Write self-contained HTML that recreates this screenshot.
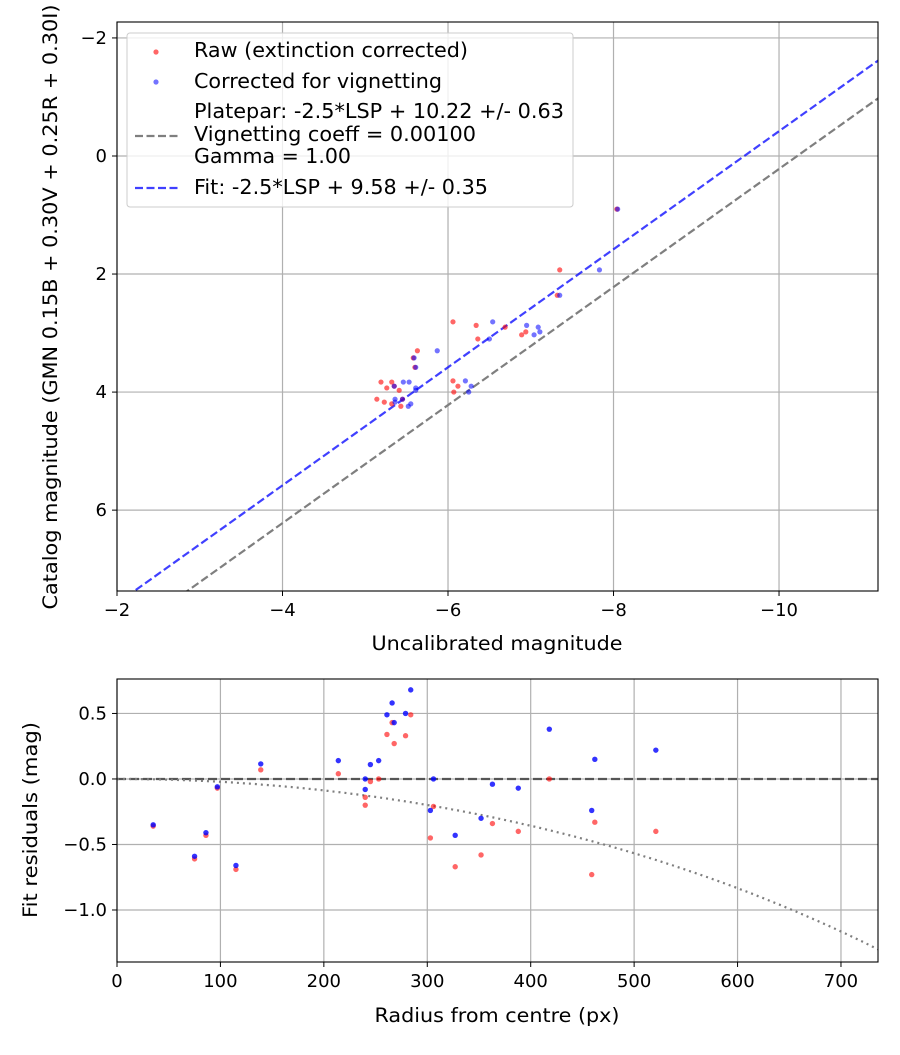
<!DOCTYPE html>
<html><head><meta charset="utf-8"><style>
body{margin:0;background:#fff;}
svg text{font-family:"DejaVu Sans","Liberation Sans",sans-serif;fill:#000;}
</style></head><body>
<svg id="fig" width="900" height="1050" viewBox="0 0 900 1050" xmlns="http://www.w3.org/2000/svg"></svg>
<script>
// ---- top chart data ----
const topCatalog = [0.9,1.93,2.36,2.81,2.87,2.90,2.98,3.03,3.10,3.30,3.42,3.58,3.81,3.90,4.0,3.83,3.83,3.93,3.97,4.12,4.17,4.24,4.20,3.90,4.12];
const topRaw =     [-8.04,-7.35,-7.32,-6.06,-6.34,-6.69,-6.94,-6.89,-6.36,-5.63,-5.58,-5.60,-6.06,-6.12,-6.07,-5.19,-5.32,-5.26,-5.41,-5.14,-5.23,-5.43,-5.32,-5.35,-5.45];
const topCorr =    [-8.05,-7.83,-7.35,-6.54,-6.95,-7.09,-7.11,-7.04,-6.50,-5.87,-5.59,-5.61,-6.21,-6.28,-6.25,-5.46,-5.53,-5.61,-5.61,-5.36,-5.36,-5.52,-5.55,-5.35,-5.45];
const platepar = 10.22;
const fitZero = 9.58;
const topXTicks = [-2,-4,-6,-8,-10];
const topYTicks = [-2,0,2,4,6];
// ---- bottom chart data ----
const resRadius = [35,75,86,115,97,139,214,240,240,245,253,261,266,268,279,284,303,306,327,352,363,388,418,459,462,521];
const resRaw =    [-0.36,-0.61,-0.43,-0.69,-0.07,0.07,0.04,-0.14,-0.20,-0.02,0.0,0.34,0.43,0.27,0.33,0.49,-0.45,-0.21,-0.67,-0.58,-0.34,-0.40,0.0,-0.73,-0.33,-0.40];
const resCorr =   [-0.35,-0.59,-0.41,-0.66,-0.06,0.115,0.14,0.0,-0.08,0.11,0.14,0.49,0.58,0.43,0.50,0.68,-0.24,0.0,-0.43,-0.30,-0.04,-0.07,0.38,-0.24,0.15,0.22];
const vignCoeff = 0.001;
const botXTicks = [0,100,200,300,400,500,600,700];
const botYTicks = [0.5,0.0,-0.5,-1.0];
const botYLabels = ["0.5","0.0","−0.5","−1.0"];

const NS="http://www.w3.org/2000/svg";
const svg=document.getElementById('fig');
function mk(tag,attrs,parent){const e=document.createElementNS(NS,tag);for(const k in attrs)e.setAttribute(k,attrs[k]);(parent||svg).appendChild(e);return e;}
const fmt=v=>(v<0?"−":"")+Math.abs(v);

// top axes
const T={l:117,t:22,w:761,h:569,x0:-2,x1:-11.196,y0:-2.27,y1:7.37};
const tx=v=>T.l+(v-T.x0)/(T.x1-T.x0)*T.w;
const ty=v=>T.t+(v-T.y0)/(T.y1-T.y0)*T.h;
const gTop=mk('g',{});


const clipT=mk('clipPath',{id:'ct'});mk('rect',{x:T.l,y:T.t,width:T.w,height:T.h},clipT);
topXTicks.forEach(v=>{
  const l=mk('line',{x1:tx(v),x2:tx(v),y1:T.t,y2:T.t+T.h,stroke:'#b0b0b0','stroke-width':1.2},gTop);
  
  mk('line',{x1:tx(v),x2:tx(v),y1:T.t+T.h,y2:T.t+T.h+5,stroke:'#000'},gTop);
  const t=mk('text',{x:tx(v),y:T.t+T.h+25,'text-anchor':'middle','font-size':18},gTop);t.textContent=fmt(v);
  
});
topYTicks.forEach(v=>{
  const l=mk('line',{x1:T.l,x2:T.l+T.w,y1:ty(v),y2:ty(v),stroke:'#b0b0b0','stroke-width':1.2},gTop);
  
  mk('line',{x1:T.l-5,x2:T.l,y1:ty(v),y2:ty(v),stroke:'#000'},gTop);
  const t=mk('text',{x:T.l-10,y:ty(v)+6,'text-anchor':'end','font-size':18},gTop);t.textContent=fmt(v);
  
});
const gTD=mk('g',{'clip-path':'url(#ct)'},gTop);
const lp=mk('line',{x1:tx(T.x0),y1:ty(T.x0+platepar),x2:tx(T.x1),y2:ty(T.x1+platepar),stroke:'#7f7f7f','stroke-width':2.2,'stroke-dasharray':'8,3.5'},gTD);

const lf=mk('line',{x1:tx(T.x0),y1:ty(T.x0+fitZero),x2:tx(T.x1),y2:ty(T.x1+fitZero),stroke:'rgba(0,0,255,0.75)','stroke-width':2.2,'stroke-dasharray':'8,3.5'},gTD);

topRaw.forEach((v,i)=>{const c=mk('circle',{cx:tx(v),cy:ty(topCatalog[i]),r:2.6,fill:'rgba(255,0,0,0.6)'},gTD);
  });
topCorr.forEach((v,i)=>{const c=mk('circle',{cx:tx(v),cy:ty(topCatalog[i]),r:2.6,fill:'rgba(0,0,255,0.55)'},gTD);
  });
mk('rect',{x:T.l,y:T.t,width:T.w,height:T.h,fill:'none',stroke:'#000','stroke-width':1.1},gTop);
// legend
const lg=mk('g',{},gTop);

mk('rect',{x:127,y:33,width:446,height:174,rx:3,fill:'rgba(255,255,255,0.8)',stroke:'#ccc'},lg);
mk('circle',{cx:156,cy:52,r:2.6,fill:'rgba(255,0,0,0.6)'},lg);
mk('circle',{cx:156,cy:82,r:2.6,fill:'rgba(0,0,255,0.55)'},lg);
mk('line',{x1:135,x2:178,y1:136,y2:136,stroke:'#7f7f7f','stroke-width':2.2,'stroke-dasharray':'8,3.5'},lg);
mk('line',{x1:135,x2:178,y1:188,y2:188,stroke:'rgba(0,0,255,0.75)','stroke-width':2.2,'stroke-dasharray':'8,3.5'},lg);
[["Raw (extinction corrected)",57,274],["Corrected for vignetting",88,248],["Platepar: -2.5*LSP + 10.22 +/- 0.63",118,370],["Vignetting coeff = 0.00100",141,282],["Gamma = 1.00",163,157],["Fit: -2.5*LSP + 9.58 +/- 0.35",194,294]].forEach(([s,y,w])=>{
  const t=mk('text',{x:194,y:y,'font-size':20,textLength:w,lengthAdjust:'spacingAndGlyphs'},lg);t.textContent=s;
  
});
let t1=mk('text',{x:497,y:650,'text-anchor':'middle','font-size':19.5,textLength:251,lengthAdjust:'spacingAndGlyphs'});t1.textContent="Uncalibrated magnitude";

let t2=mk('text',{x:0,y:0,'text-anchor':'middle','font-size':19.5,textLength:605,lengthAdjust:'spacingAndGlyphs',transform:'translate(57,307) rotate(-90)'});t2.textContent="Catalog magnitude (GMN 0.15B + 0.30V + 0.25R + 0.30I)";


// bottom axes
const B={l:117,t:679,w:761,h:283,x0:0,x1:735.8,y0:0.763,y1:-1.397};
const bx=v=>B.l+(v-B.x0)/(B.x1-B.x0)*B.w;
const by=v=>B.t+(v-B.y0)/(B.y1-B.y0)*B.h;
const gB=mk('g',{});

const clipB=mk('clipPath',{id:'cb'});mk('rect',{x:B.l,y:B.t,width:B.w,height:B.h},clipB);
botXTicks.forEach(v=>{
  const l=mk('line',{x1:bx(v),x2:bx(v),y1:B.t,y2:B.t+B.h,stroke:'#b0b0b0','stroke-width':1.2},gB);
  
  mk('line',{x1:bx(v),x2:bx(v),y1:B.t+B.h,y2:B.t+B.h+5,stroke:'#000'},gB);
  const t=mk('text',{x:bx(v),y:B.t+B.h+25,'text-anchor':'middle','font-size':18},gB);t.textContent=v;
  
});
botYTicks.forEach((v,i)=>{
  const l=mk('line',{x1:B.l,x2:B.l+B.w,y1:by(v),y2:by(v),stroke:'#b0b0b0','stroke-width':1.2},gB);
  
  mk('line',{x1:B.l-5,x2:B.l,y1:by(v),y2:by(v),stroke:'#000'},gB);
  const t=mk('text',{x:B.l-10,y:by(v)+6,'text-anchor':'end','font-size':18},gB);t.textContent=botYLabels[i];
  
});
const gBD=mk('g',{'clip-path':'url(#cb)'},gB);
const zl=mk('line',{x1:B.l,x2:B.l+B.w,y1:by(0),y2:by(0),stroke:'#555','stroke-width':2.2,'stroke-dasharray':'9,4'},gBD);

let d='';for(let r=0;r<=736;r+=4){d+=(r?'L':'M')+bx(r).toFixed(1)+','+by(10*Math.log10(Math.cos(vignCoeff*r))).toFixed(1);}
const vc=mk('path',{d:d,fill:'none',stroke:'#7f7f7f','stroke-width':2.2,'stroke-dasharray':'2,4'},gBD);

resRaw.forEach((v,i)=>{const c=mk('circle',{cx:bx(resRadius[i]),cy:by(v),r:2.7,fill:'rgba(255,0,0,0.6)'},gBD);
  });
resCorr.forEach((v,i)=>{const c=mk('circle',{cx:bx(resRadius[i]),cy:by(v),r:2.7,fill:'rgba(0,0,255,0.8)'},gBD);
  });
mk('rect',{x:B.l,y:B.t,width:B.w,height:B.h,fill:'none',stroke:'#000','stroke-width':1.1},gB);
let t3=mk('text',{x:497,y:1022,'text-anchor':'middle','font-size':19.5,textLength:245,lengthAdjust:'spacingAndGlyphs'});t3.textContent="Radius from centre (px)";

let t4=mk('text',{x:0,y:0,'text-anchor':'middle','font-size':19.5,textLength:196,lengthAdjust:'spacingAndGlyphs',transform:'translate(37,820) rotate(-90)'});t4.textContent="Fit residuals (mag)";

</script>
</body></html>
